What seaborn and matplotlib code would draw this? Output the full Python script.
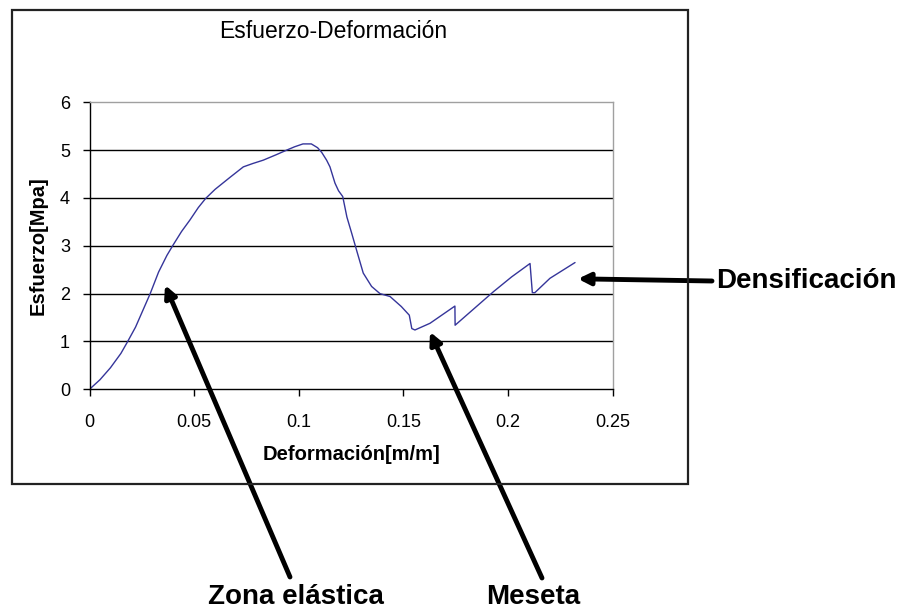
import matplotlib
matplotlib.use("Agg")
from matplotlib import pyplot as plt
from matplotlib.patches import Rectangle
import seaborn as sns
import pandas as pd

# curva esfuerzo-deformacion
deformacion = [0.0, 0.005, 0.01, 0.015, 0.018, 0.022, 0.026, 0.029, 0.033, 0.037,
               0.040, 0.044, 0.048, 0.052, 0.0555, 0.060, 0.0671, 0.0735, 0.078, 0.083,
               0.089, 0.0942, 0.098, 0.102, 0.106, 0.109, 0.111, 0.1133, 0.1149, 0.1173,
               0.119, 0.121, 0.123, 0.1253, 0.128, 0.1308, 0.1348, 0.1388, 0.1436, 0.149,
               0.1528, 0.154, 0.1555, 0.1627, 0.1746, 0.1747, 0.193, 0.2017, 0.2105, 0.2116,
               0.2128, 0.220, 0.232]
esfuerzo = [0.0, 0.2, 0.45, 0.75, 0.98, 1.3, 1.7, 2.0, 2.45, 2.8,
            3.02, 3.3, 3.54, 3.8, 3.99, 4.18, 4.43, 4.65, 4.72, 4.79,
            4.9, 5.0, 5.07, 5.13, 5.13, 5.05, 4.95, 4.79, 4.65, 4.31,
            4.15, 4.03, 3.6, 3.26, 2.85, 2.43, 2.15, 2.0, 1.94, 1.73,
            1.55, 1.27, 1.24, 1.38, 1.74, 1.34, 2.04, 2.35, 2.63, 2.02,
            2.02, 2.32, 2.65]

x_ticks = [0, 0.05, 0.1, 0.15, 0.2, 0.25]
x_labels = ["0", "0.05", "0.1", "0.15", "0.2", "0.25"]
y_ticks = [0, 1, 2, 3, 4, 5, 6]

# anotaciones: texto, punta de flecha (datos), cola (pixeles), posicion texto (pixeles)
anotaciones = [
    ("Zona elástica", (0.0361, 2.18), (290, 577), (296, 597), "center"),
    ("Meseta", (0.1627, 1.20), (542, 578), (533, 597), "center"),
    ("Densificación", (0.2334, 2.31), (712, 281), (716, 281), "left"),
]

W, H = 913, 609
df = pd.DataFrame({"Deformacion": deformacion, "Esfuerzo": esfuerzo})

sns.set_style("white")
plt.rcParams["font.family"] = ["Liberation Sans", "DejaVu Sans"]
plt.rcParams["text.color"] = "black"
plt.rcParams["axes.labelcolor"] = "black"
plt.rcParams["xtick.color"] = "black"
plt.rcParams["ytick.color"] = "black"

fig = plt.figure(figsize=(W / 100, H / 100), dpi=100)
ax = fig.add_axes([89.5 / W, 1 - 389.3 / H, (612.7 - 89.5) / W, (389.3 - 102.3) / H])

sns.lineplot(data=df, x="Deformacion", y="Esfuerzo", sort=False, estimator=None,
             color="#35359a", linewidth=1.0, ax=ax)

ax.set_xlim(0, 0.25)
ax.set_ylim(0, 6)
ax.set_xticks(x_ticks, labels=x_labels)
ax.set_yticks(y_ticks)
for v in y_ticks[1:-1]:
    ax.axhline(v, color="black", linewidth=1.0, zorder=0)

ax.spines["left"].set_color("black")
ax.spines["bottom"].set_color("black")
ax.spines["top"].set_color("#a0a0a0")
ax.spines["right"].set_color("#a0a0a0")
for s in ax.spines.values():
    s.set_linewidth(1.0)
ax.tick_params(axis="both", direction="out", length=5, width=1, color="black",
               labelsize=13, bottom=True, left=True)
ax.tick_params(axis="x", pad=13)
ax.tick_params(axis="y", pad=9)

ax.set_xlabel("Deformación[m/m]", fontsize=14.5, fontweight="bold", labelpad=10)
ax.set_ylabel("Esfuerzo[Mpa]", fontsize=14.5, fontweight="bold", labelpad=9)
fig.text(333 / W, 1 - 31 / H, "Esfuerzo-Deformación", fontsize=16.5,
         ha="center", va="center")

# marco del grafico
fig.patches.append(Rectangle((12 / W, 1 - 484 / H), (688 - 12) / W, (484 - 10) / H,
                             transform=fig.transFigure, fill=False,
                             edgecolor="#222222", linewidth=1.6))

for texto, punta, cola, pos, ha in anotaciones:
    ax.annotate("", xy=punta, xycoords="data",
                xytext=(cola[0], H - cola[1]), textcoords="figure pixels",
                arrowprops=dict(arrowstyle="-|>,head_length=0.7,head_width=0.35",
                                color="black", lw=3.5, shrinkA=0, shrinkB=0),
                annotation_clip=False)
    fig.text(pos[0] / W, 1 - pos[1] / H, texto, fontsize=20, fontweight="bold",
             ha=ha, va="center")

fig.savefig("out.png", dpi=100)
